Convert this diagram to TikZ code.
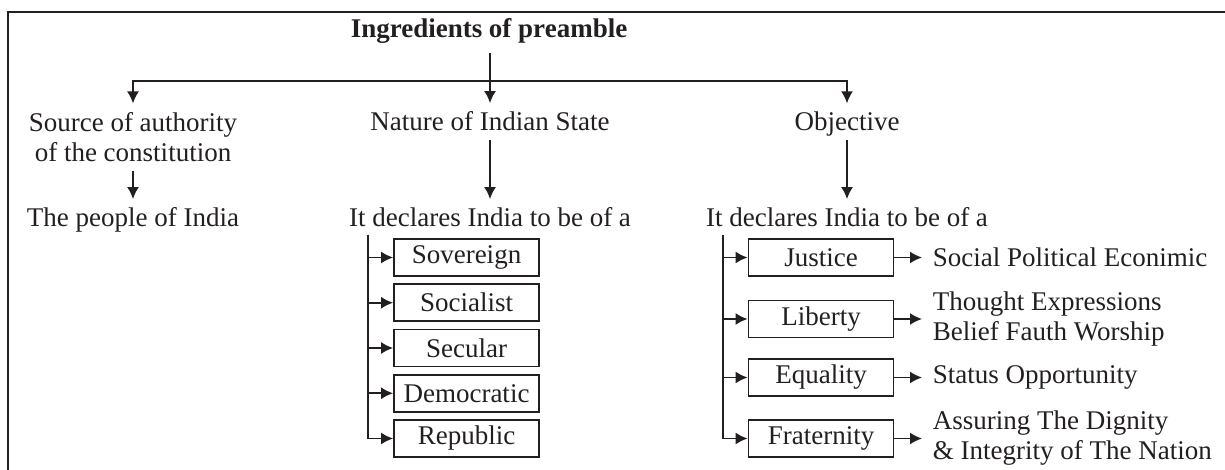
\documentclass[tikz,border=0pt]{standalone}
\usepackage{fontspec}
\setmainfont{Liberation Serif}
\usetikzlibrary{arrows.meta}

\definecolor{ink}{HTML}{231F20}

\tikzset{
	arr/.style={-{Latex[length=6pt,width=6pt]}},
	item/.style={draw, minimum width=72.5pt, minimum height=18.5pt, inner sep=1pt},
	desc/.style={anchor=west, align=left, inner xsep=5pt, inner ysep=0pt},
}

\begin{document}
\begin{tikzpicture}[x=0.5pt, y=-0.5pt, line width=0.9pt, draw=ink, text=ink,
	every node/.style={font=\fontsize{13.5}{15}\selectfont, inner sep=4pt}]
	\useasboundingbox (0,0) rectangle (1225,470);
	\draw (8,470) -- (8,12) -- (1225,12);

	\node[anchor=base, font=\fontsize{13.5}{15}\selectfont\bfseries] (title) at (489,38) {Ingredients of preamble};
	\coordinate (bus) at (490,81);

	\node[align=center]  (src)    at (133,137) {Source of authority\\of the constitution};
	\node[anchor=base]   (nature) at (490,131) {Nature of Indian State};
	\node[anchor=base, text depth=0pt] (obj) at (847,131) {Objective};

	\node[anchor=base]   (people) at (133,227) {The people of India};
	\node[anchor=base]   (ndecl)  at (490,227) {It declares India to be of a};
	\node[anchor=base]   (odecl)  at (847,227) {It declares India to be of a};

	\draw[arr] (title.south -| bus) -- (nature);
	\draw[arr] (bus) -| (src);
	\draw[arr] (bus) -| (obj);
	\draw[arr] (src) -- (people);
	\draw[arr] (nature) -- (ndecl);
	\draw[arr] (obj) -- (odecl);

	% nature of state
	\coordinate (nt) at (368,235);
	\foreach \n/\t/\y in {sov/Sovereign/257.5, soc/Socialist/302.75, sec/Secular/348,
		dem/Democratic/393.25, rep/Republic/438.5} {
		\node[item] (\n) at (466.5,\y) {\t};
		\draw[arr] (nt) |- (\n);
	}

	% objectives
	\coordinate (ot) at (723,235);
	\node[item] (jus) at (821,257.5) {Justice};
	\node[item] (lib) at (821,319)   {Liberty};
	\node[item] (equ) at (821,377.5) {Equality};
	\node[item] (fra) at (821,438.5) {Fraternity};

	\node[desc] (jusd) at (922,257.5) {Social Political Econimic};
	\node[desc] (libd) at (922,319)   {Thought Expressions\\Belief Fauth Worship};
	\node[desc] (equd) at (922,377.5) {Status Opportunity};
	\node[desc] (frad) at (922,438.5) {Assuring The Dignity\\\& Integrity of The Nation};

	\foreach \n in {jus, lib, equ, fra} {
		\draw[arr] (ot) |- (\n);
		\draw[arr] (\n) -- (\n d);
	}
\end{tikzpicture}
\end{document}
